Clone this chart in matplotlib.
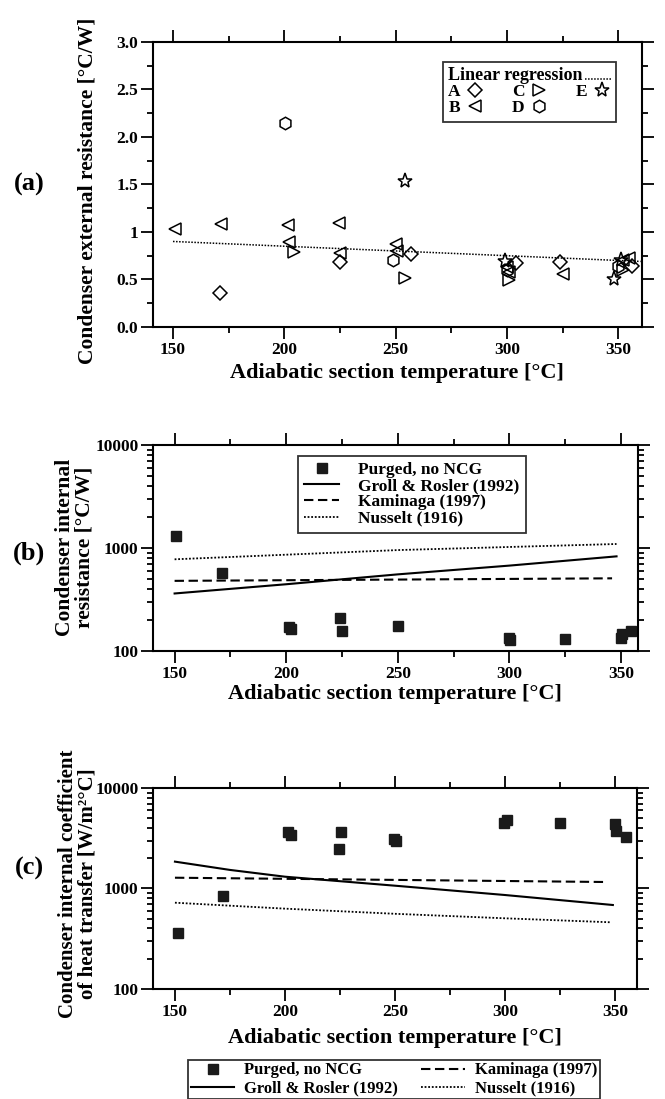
"""Condenser resistance / heat transfer vs adiabatic section temperature (3 panels)."""

import matplotlib

matplotlib.use("Agg")
import matplotlib.pyplot as plt
import numpy as np
from matplotlib.lines import Line2D
from matplotlib.ticker import FixedLocator, LogLocator, NullFormatter

plt.rcParams["font.family"] = ["Liberation Serif", "DejaVu Serif"]
plt.rcParams["font.weight"] = "bold"
plt.rcParams["axes.labelweight"] = "bold"

# ---- panel (a): condenser external resistance [°C/W] ----
a_T = [171, 225, 257, 304, 324, 356]
a_R = [0.36, 0.68, 0.77, 0.67, 0.68, 0.64]
b_T = [151, 171.5, 201.5, 202, 224.5, 225, 250, 250.5, 300, 301, 325, 352, 355]
b_R = [1.03, 1.08, 1.07, 0.89, 1.09, 0.78, 0.87, 0.80, 0.63, 0.58, 0.56, 0.70, 0.73]
c_T = [204.5, 254, 301, 352]
c_R = [0.79, 0.52, 0.49, 0.60]
d_T = [200.5, 249, 300, 350]
d_R = [2.15, 0.71, 0.60, 0.64]
e_T = [254, 299, 348, 351]
e_R = [1.54, 0.69, 0.50, 0.70]
reg_T = [150, 360]
reg_R = [0.90, 0.69]
a_yticks = [0.0, 0.5, 1.0, 1.5, 2.0, 2.5, 3.0]
a_ytick_labels = ["0.0", "0.5", "1", "1.5", "2.0", "2.5", "3.0"]

# ---- panel (b): condenser internal resistance [°C/W] ----
res_T = [150.7, 171.4, 201.3, 202, 224, 225.2, 249.9, 299.7, 300.3, 324.8, 350, 350.5, 354.6]
res_R = [1320, 571, 170, 163, 210, 157, 175, 133, 128, 131, 133, 148, 156]
res_groll_T = [150, 200, 250, 300, 348]
res_groll_R = [362, 445, 555, 675, 830]
res_kam_T = [150, 346]
res_kam_R = [480, 508]
res_nus_T = [150, 250, 348]
res_nus_R = [777, 955, 1094]

# ---- panel (c): condenser internal heat transfer coefficient [W/m²°C] ----
htc_T = [151.2, 172, 201.5, 202.6, 224.5, 225.3, 249.7, 250.5, 299.7, 300.8, 325, 350, 350.5, 354.9]
htc_H = [358, 842, 3670, 3380, 2470, 3670, 3110, 2970, 4520, 4810, 4520, 4350, 3730, 3250]
htc_groll_T = [150, 175, 200, 250, 300, 349]
htc_groll_H = [1850, 1530, 1310, 1066, 861, 685]
htc_kam_T = [150, 346]
htc_kam_H = [1280, 1160]
htc_nus_T = [150, 200, 250, 300, 348]
htc_nus_H = [722, 630, 560, 505, 461]

x_ticks = [150, 200, 250, 300, 350]
log_ticks = [100, 1000, 10000]
log_tick_labels = ["100", "1000", "10000"]

XLABEL = "Adiabatic section temperature [°C]"
DASH = (0, (4.5, 2.2))
DOT = (0, (1, 1))
W, H = 665, 1099


def style_axes(ax, log=False):
    """Outward ticks on all four sides, labels only left/bottom."""
    for s in ax.spines.values():
        s.set_linewidth(1.5)
    ax.tick_params(which="both", direction="out", top=True, right=True,
                   labeltop=False, labelright=False, width=1.3, labelsize=12.5,
                   pad=2)
    ax.tick_params(which="major", length=8.5)
    ax.tick_params(which="minor", length=4.5)
    ax.set_xticks(x_ticks)
    ax.xaxis.set_minor_locator(FixedLocator([175, 225, 275, 325]))
    if log:
        ax.set_yscale("log")
        ax.set_ylim(100, 10000)
        ax.set_yticks(log_ticks)
        ax.set_yticklabels(log_tick_labels)
        ax.yaxis.set_minor_locator(LogLocator(base=10, subs=np.arange(2, 10)))
        ax.yaxis.set_minor_formatter(NullFormatter())


def side_text(fig, x_px, y_px, s, **kw):
    """Text placed by pixel centre (from top-left)."""
    fig.text(x_px / W, 1 - y_px / H, s, ha="center", va="center",
             weight="bold", **kw)


fig = plt.figure(figsize=(W / 100, H / 100), dpi=100)

# ---------------- (a) ----------------
ax1 = fig.add_axes([0.230, 0.7025, 0.735, 0.2593])
style_axes(ax1)
ax1.set_xlim(141, 360.5)
ax1.set_ylim(0, 3.0)
ax1.set_yticks(a_yticks)
ax1.set_yticklabels(a_ytick_labels)
ax1.yaxis.set_minor_locator(FixedLocator(np.arange(0.25, 3.0, 0.5)))

open_kw = dict(linestyle="none", markerfacecolor="none", markeredgecolor="black",
               markeredgewidth=1.1)
ax1.plot(reg_T, reg_R, color="black", linestyle=DOT, linewidth=1.1)
hA, = ax1.plot(a_T, a_R, marker="D", markersize=7, label="A", **open_kw)
hB, = ax1.plot(b_T, b_R, marker="<", markersize=9, label="B", **open_kw)
hC, = ax1.plot(c_T, c_R, marker=">", markersize=9, label="C", **open_kw)
hD, = ax1.plot(d_T, d_R, marker="h", markersize=9, label="D", **open_kw)
hE, = ax1.plot(e_T, e_R, marker="*", markersize=11, label="E", **open_kw)

leg_a = ax1.legend(handles=[hA, hB, hC, hD, hE], ncol=3, markerfirst=False,
                   loc="upper left", bbox_to_anchor=(0.593, 0.93),
                   borderaxespad=0, title="Linear regression", alignment="left",
                   prop={"size": 12.5, "weight": "bold"},
                   title_fontproperties={"size": 13, "weight": "bold"},
                   frameon=True, fancybox=False, edgecolor="black",
                   handlelength=1.0, handletextpad=0.35, columnspacing=1.6,
                   labelspacing=0.0, borderpad=0.3)
leg_a.get_frame().set_linewidth(1.3)

ax1.set_xlabel(XLABEL, fontsize=16, labelpad=4)
side_text(fig, 88, 191, "Condenser external resistance [°C/W]", fontsize=15.5,
          rotation=90)
side_text(fig, 29, 184, "(a)", fontsize=19)

# ---------------- (b) ----------------
ax2 = fig.add_axes([0.230, 0.4076, 0.729, 0.1875])
style_axes(ax2, log=True)
ax2.set_xlim(140.3, 357.5)
ax2.plot(res_nus_T, res_nus_R, color="black", linestyle=DOT, linewidth=1.3,
         label="Nusselt (1916)")
ax2.plot(res_kam_T, res_kam_R, color="black", linestyle=DASH, linewidth=1.5,
         label="Kaminaga (1997)")
ax2.plot(res_groll_T, res_groll_R, color="black", linewidth=1.5,
         label="Groll & Rosler (1992)")
ax2.plot(res_T, res_R, linestyle="none", marker="s", markersize=7,
         color="#1a1a1a", label="Purged, no NCG")
h, l = ax2.get_legend_handles_labels()
leg_b = ax2.legend(h[::-1], l[::-1], loc="upper left", bbox_to_anchor=(0.30, 0.947),
                   borderaxespad=0, prop={"size": 12.5, "weight": "bold"},
                   frameon=True, fancybox=False, edgecolor="black",
                   handlelength=2.0, handletextpad=1.1, labelspacing=0.0,
                   borderpad=0.35)
leg_b.get_frame().set_linewidth(1.3)
ax2.set_xlabel(XLABEL, fontsize=16, labelpad=2)
side_text(fig, 75, 547, "Condenser internal\nresistance [°C/W]", fontsize=15.5,
          rotation=90, linespacing=0.95)
side_text(fig, 29, 553, "(b)", fontsize=19)

# ---------------- (c) ----------------
ax3 = fig.add_axes([0.230, 0.1001, 0.728, 0.1829])
style_axes(ax3, log=True)
ax3.set_xlim(140, 360)
ax3.plot(htc_T, htc_H, linestyle="none", marker="s", markersize=7,
         color="#1a1a1a", label="Purged, no NCG")
ax3.plot(htc_groll_T, htc_groll_H, color="black", linewidth=1.5,
         label="Groll & Rosler (1992)")
ax3.plot(htc_kam_T, htc_kam_H, color="black", linestyle=DASH, linewidth=1.5,
         label="Kaminaga (1997)")
ax3.plot(htc_nus_T, htc_nus_H, color="black", linestyle=DOT, linewidth=1.3,
         label="Nusselt (1916)")
ax3.set_xlabel(XLABEL, fontsize=16, labelpad=6)
side_text(fig, 78, 884, "Condenser internal coefficient\nof heat transfer [W/m²°C]",
          fontsize=15, rotation=90, linespacing=0.95)
side_text(fig, 29, 868, "(c)", fontsize=19)

h, l = ax3.get_legend_handles_labels()
leg_c = fig.legend(h, l, ncol=2, loc="upper center",
                   bbox_to_anchor=(394 / W, 1 - 1060 / H), borderaxespad=0,
                   prop={"size": 12, "weight": "bold"}, frameon=True,
                   fancybox=False, edgecolor="black", handlelength=2.6,
                   handletextpad=0.6, columnspacing=1.4, labelspacing=0.12,
                   borderpad=0.15)
leg_c.get_frame().set_linewidth(1.3)

# dotted regression sample after the legend title in panel (a)
fig.canvas.draw()
rend = fig.canvas.get_renderer()
tb = leg_a.get_title().get_window_extent(rend)
fb = leg_a.get_frame().get_window_extent(rend)
inv = fig.transFigure.inverted()
x0, y0 = inv.transform((tb.x1 + 2, (tb.y0 + tb.y1) / 2 - 3))
x1, _ = inv.transform((fb.x1 - 4, 0))
fig.add_artist(Line2D([x0, x1], [y0, y0], color="black", linestyle=DOT,
                      linewidth=1.1, transform=fig.transFigure))

fig.savefig("out.png", dpi=100)
plt.close(fig)
